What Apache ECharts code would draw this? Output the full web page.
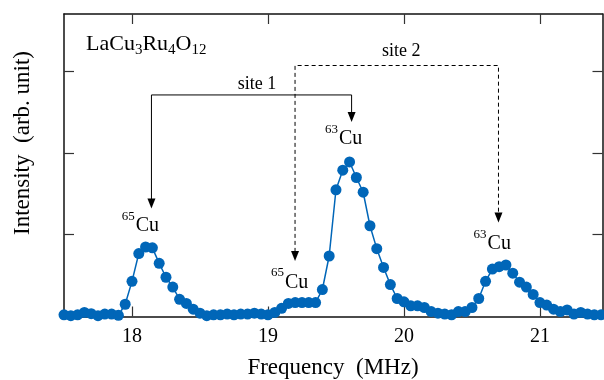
<!DOCTYPE html>
<html><head><meta charset="utf-8">
<script src="https://cdn.jsdelivr.net/npm/echarts@6/dist/echarts.min.js"></script>
<style>html,body{margin:0;padding:0;background:#fff}#c{width:604px;height:380px}</style>
</head><body><div id="c"></div>
<script>
const freq = [17.50,17.55,17.60,17.65,17.70,17.75,17.80,17.85,17.90,17.95,
  18.00,18.05,18.10,18.15,18.20,18.25,18.30,18.35,18.40,18.45,
  18.50,18.55,18.60,18.65,18.70,18.75,18.80,18.85,18.90,18.95,
  19.00,19.05,19.10,19.15,19.20,19.25,19.30,19.35,19.40,19.45,
  19.50,19.55,19.60,19.65,19.70,19.75,19.80,19.85,19.90,19.95,
  20.00,20.05,20.10,20.15,20.20,20.25,20.30,20.35,20.40,20.45,
  20.50,20.55,20.60,20.65,20.70,20.75,20.80,20.85,20.90,20.95,
  21.00,21.05,21.10,21.15,21.20,21.25,21.30,21.35,21.40,21.45];
const intensity = [0.02,0.01,0.02,0.05,0.035,0.01,0.03,0.03,0.015,0.15,
  0.43,0.77,0.85,0.84,0.65,0.48,0.36,0.21,0.16,0.09,
  0.04,0.01,0.02,0.02,0.03,0.02,0.03,0.03,0.04,0.03,
  0.02,0.05,0.10,0.16,0.17,0.17,0.17,0.17,0.33,0.74,
  1.55,1.79,1.89,1.70,1.52,1.11,0.83,0.60,0.39,0.22,
  0.18,0.13,0.13,0.11,0.06,0.04,0.03,0.02,0.06,0.06,
  0.11,0.22,0.43,0.58,0.61,0.63,0.53,0.42,0.36,0.27,
  0.17,0.14,0.09,0.06,0.08,0.03,0.05,0.03,0.02,0.02];
const xTicks = [18,19,20,21];
const yTicks = [0,1,2,3];
const xTitle = 'Frequency  (MHz)';
const yTitle = 'Intensity  (arb. unit)';
// annotation paths in data coordinates
const site1Path = [[18.143,1.32],[18.143,2.71],[19.615,2.71],[19.615,2.38]];
const site2Path = [[19.199,0.68],[19.199,3.07],[20.695,3.07],[20.695,1.15]];
const siteLabels = [{text:'site 1', x:18.92, y:2.84},{text:'site 2', x:19.98, y:3.24}];
const isoLabels = [{mass:'65',x:18.027,y:1.037},{mass:'65',x:19.125,y:0.345},{mass:'63',x:19.522,y:2.097},{mass:'63',x:20.615,y:0.813}];

const FONT = 'Liberation Serif';
const chart = echarts.init(document.getElementById('c'), null, {renderer:'canvas'});
const axLine = {show:true, onZero:false, lineStyle:{color:'#111', width:1.5}};
const tick = {show:true, inside:true, length:10, lineStyle:{color:'#333', width:1.2}};
const xBase = {type:'value', min:17.5, max:21.46, splitLine:{show:false}, axisLine:axLine};
const yBase = {type:'value', min:0, max:3.7, splitLine:{show:false}, axisLine:axLine};
chart.setOption({
  animation:false,
  grid:{left:64, right:1.5, top:14, bottom:63.5, containLabel:false, outerBoundsMode:'none'},
  xAxis:[
    Object.assign({}, xBase, {position:'bottom',
      axisTick:Object.assign({customValues:xTicks}, tick),
      axisLabel:{customValues:xTicks, fontFamily:FONT, fontSize:20, color:'#000', margin:10}}),
    Object.assign({}, xBase, {position:'top',
      axisTick:Object.assign({customValues:xTicks}, tick), axisLabel:{show:false}})
  ],
  yAxis:[
    Object.assign({}, yBase, {position:'left',
      axisTick:Object.assign({customValues:yTicks}, tick), axisLabel:{show:false}}),
    Object.assign({}, yBase, {position:'right',
      axisTick:Object.assign({customValues:yTicks}, tick), axisLabel:{show:false}})
  ],
  series:[{
    type:'line', xAxisIndex:0, yAxisIndex:0,
    data: freq.map((f,i)=>[f,intensity[i]]),
    symbol:'circle', symbolSize:11, showSymbol:true,
    itemStyle:{color:'#0066b8'}, lineStyle:{color:'#0066b8', width:1.5}
  }]
});

function P(x,y){return chart.convertToPixel({seriesIndex:0},[x,y]);}
const g = [];
function addPath(path, dashed){
  const pts = path.map(p=>P(p[0],p[1]));
  const ends = [pts[0], pts[pts.length-1]];
  const AL = 10, AW = 4;
  const linePts = pts.map(p=>p.slice());
  linePts[0][1] -= AL - 1; linePts[linePts.length-1][1] -= AL - 1;
  g.push({type:'polyline', shape:{points:linePts}, style:{stroke:'#000', lineWidth:1, fill:null, lineDash: dashed?[4,3]:null}, z:10});
  ends.forEach(t=>{
    g.push({type:'polygon', shape:{points:[[t[0]-AW,t[1]-AL],[t[0]+AW,t[1]-AL],[t[0],t[1]]]}, style:{fill:'#000'}, z:10});
  });
}
addPath(site1Path,false);
addPath(site2Path,true);
siteLabels.forEach(s=>{
  const p = P(s.x,s.y);
  g.push({type:'text', x:p[0], y:p[1], style:{text:s.text, font:'18px '+FONT, fill:'#000', align:'center', verticalAlign:'middle'}, z:10});
});
isoLabels.forEach(s=>{
  const p = P(s.x,s.y);
  g.push({type:'text', x:p[0], y:p[1]+4, style:{text:'Cu', font:'20px '+FONT, fill:'#000', align:'left', verticalAlign:'bottom'}, z:10});
  g.push({type:'text', x:p[0]-14, y:p[1]-22, style:{text:s.mass, font:'13px '+FONT, fill:'#000', align:'left', verticalAlign:'top'}, z:10});
});
g.push({type:'text', x:86, y:44, style:{
  text:'{m|La}{m|Cu}{s|3}{m|Ru}{s|4}{m|O}{s|12}', align:'left', verticalAlign:'middle',
  rich:{m:{fontFamily:FONT, fontSize:22, fill:'#000', color:'#000', lineHeight:28, verticalAlign:'middle'},
        s:{fontFamily:FONT, fontSize:15, fill:'#000', color:'#000', lineHeight:28, verticalAlign:'bottom', padding:[9,0,0,0]}}
}, z:10});
g.push({type:'text', x:23, y:143, rotation:Math.PI/2, style:{text:yTitle, font:'23px '+FONT, fill:'#000', align:'center', verticalAlign:'middle'}, z:10});
g.push({type:'text', x:333, y:368, style:{text:xTitle, font:'23px '+FONT, fill:'#000', align:'center', verticalAlign:'middle'}, z:10});
chart.setOption({graphic:g});
</script></body></html>
